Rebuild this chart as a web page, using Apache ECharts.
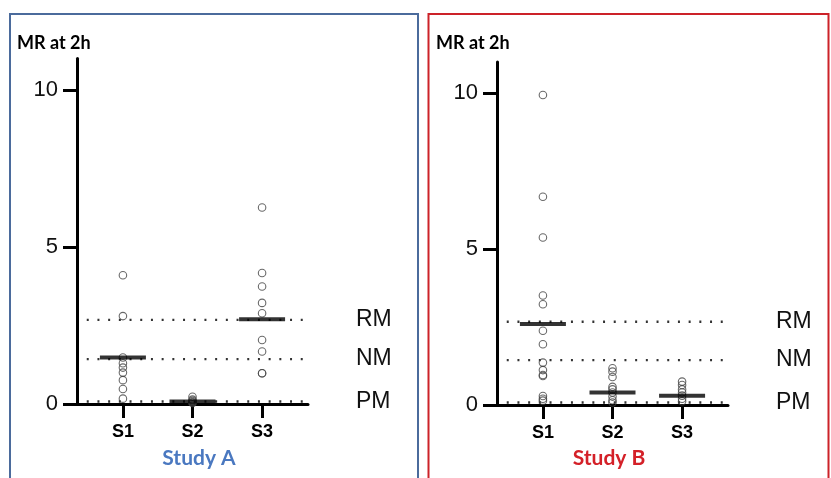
<!DOCTYPE html>
<html>
<head>
<meta charset="utf-8">
<script src="https://cdn.jsdelivr.net/npm/echarts@6/dist/echarts.min.js"></script>
<style>
html,body{margin:0;padding:0;background:#fff;}
#chart{width:831px;height:478px;}
</style>
</head>
<body>
<div id="chart"></div>
<script>
// ---- data ----
const categories = ['S1', 'S2', 'S3'];
const categoryPositions = [1, 2, 3];
const yTicks = [0, 5, 10];
const yMax = 11;
const yTitle = 'MR at 2h';
const studyNames = ['Study A', 'Study B'];
const thresholdNames = ['RM', 'NM', 'PM'];
const thresholdsA = [2.68, 1.43, 0.08];
const thresholdsB = [2.67, 1.44, 0.08];

const studyA_S1 = [4.1, 2.8, 1.48, 1.3, 1.16, 1.0, 0.76, 0.48, 0.17];
const studyA_S2 = [0.23, 0.14, 0.1, 0.06, 0.03];
const studyA_S3 = [6.26, 4.17, 3.74, 3.22, 2.89, 2.04, 1.67, 0.98, 0.98];
const studyA_means = [1.48, 0.08, 2.7];

const studyB_S1 = [9.94, 6.68, 5.37, 3.51, 3.23, 2.38, 1.95, 1.36, 1.12, 0.96, 0.93, 0.29, 0.2, 0.14];
const studyB_S2 = [1.18, 1.07, 0.9, 0.58, 0.5, 0.4, 0.27, 0.15, 0.08];
const studyB_S3 = [0.75, 0.64, 0.5, 0.4, 0.3, 0.2, 0.12];
const studyB_means = [2.6, 0.4, 0.3];

// ---- chart ----
const chart = echarts.init(document.getElementById('chart'), null, {renderer: 'canvas'});
const FONT = '"Liberation Sans", Arial, sans-serif';
const AXIS = '#000';

const grids = [
  {left: 77, top: 58.6, width: 231, height: 345.4},
  {left: 497, top: 62, width: 231, height: 343}
];

function xAxisFor(i) {
  return {
    gridIndex: i, type: 'value', min: 0.34, max: 3.66,
    splitLine: {show: false},
    axisLine: {show: true, lineStyle: {color: AXIS, width: 3}},
    axisTick: {show: true, customValues: categoryPositions, length: 14, lineStyle: {color: AXIS, width: 3}},
    axisLabel: {
      customValues: categoryPositions, margin: 19,
      formatter: v => categories[categoryPositions.indexOf(Math.round(v))] || '',
      fontFamily: FONT, fontWeight: 'bold', fontSize: 18, color: '#000'
    }
  };
}
function yAxisFor(i) {
  return {
    gridIndex: i, type: 'value', min: 0, max: yMax,
    splitLine: {show: false},
    axisLine: {show: true, lineStyle: {color: AXIS, width: 3}},
    axisTick: {show: true, customValues: yTicks, length: 14, lineStyle: {color: AXIS, width: 3}},
    axisLabel: {customValues: yTicks, margin: 19, fontFamily: FONT, fontSize: 22, color: '#111'}
  };
}

function pointsSeries(i, groups) {
  const data = [];
  groups.forEach((g, k) => g.forEach(v => data.push([categoryPositions[k], v])));
  return {
    type: 'scatter', xAxisIndex: i, yAxisIndex: i, data: data,
    symbol: 'circle', symbolSize: 7.5, z: 3,
    itemStyle: {color: 'rgba(255,255,255,0)', borderColor: '#444', borderWidth: 1.1},
    silent: true
  };
}
function meanSeries(i, means) {
  return {
    type: 'scatter', xAxisIndex: i, yAxisIndex: i,
    data: means.map((m, k) => [categoryPositions[k], m]),
    symbol: 'rect', symbolSize: [46, 4], z: 4,
    itemStyle: {color: '#000'}, silent: true
  };
}
function thresholdSeries(i, values) {
  return values.map((t, k) => ({
    type: 'line', xAxisIndex: i, yAxisIndex: i, name: thresholdNames[k],
    data: [[0.48, t], [3.63, t]], symbol: 'none', z: 2,
    lineStyle: {color: '#333', width: 2.4, type: [2, 8.7]},
    endLabel: {show: true, formatter: thresholdNames[k], distance: 50,
      fontFamily: FONT, fontSize: 23, color: '#111'},
    silent: true
  }));
}

const option = {
  animation: false,
  backgroundColor: '#fff',
  grid: grids,
  xAxis: [xAxisFor(0), xAxisFor(1)],
  yAxis: [yAxisFor(0), yAxisFor(1)],
  series: [
    ...thresholdSeries(0, thresholdsA),
    pointsSeries(0, [studyA_S1, studyA_S2, studyA_S3]),
    meanSeries(0, studyA_means),
    ...thresholdSeries(1, thresholdsB),
    pointsSeries(1, [studyB_S1, studyB_S2, studyB_S3]),
    meanSeries(1, studyB_means)
  ],
  graphic: [
    {type: 'rect', shape: {x: 10, y: 14, width: 408, height: 480}, style: {fill: 'none', stroke: '#4b6b9c', lineWidth: 2}, z: -1},
    {type: 'rect', shape: {x: 428.5, y: 14, width: 400, height: 480}, style: {fill: 'none', stroke: '#cc2229', lineWidth: 2}, z: -1},
    {type: 'text', x: 17, y: 43, style: {text: yTitle, font: 'bold 18px Lato, "Open Sans", sans-serif', fill: '#000', verticalAlign: 'middle'}},
    {type: 'text', x: 436, y: 43, style: {text: yTitle, font: 'bold 18px Lato, "Open Sans", sans-serif', fill: '#000', verticalAlign: 'middle'}},
    {type: 'text', x: 199, y: 458, style: {text: studyNames[0], font: 'bold 21px Lato, "Open Sans", sans-serif', fill: '#4a78c0', align: 'center', verticalAlign: 'middle'}},
    {type: 'text', x: 609, y: 458, style: {text: studyNames[1], font: 'bold 21px Lato, "Open Sans", sans-serif', fill: '#d42028', align: 'center', verticalAlign: 'middle'}}
  ]
};
chart.setOption(option);
</script>
</body>
</html>
